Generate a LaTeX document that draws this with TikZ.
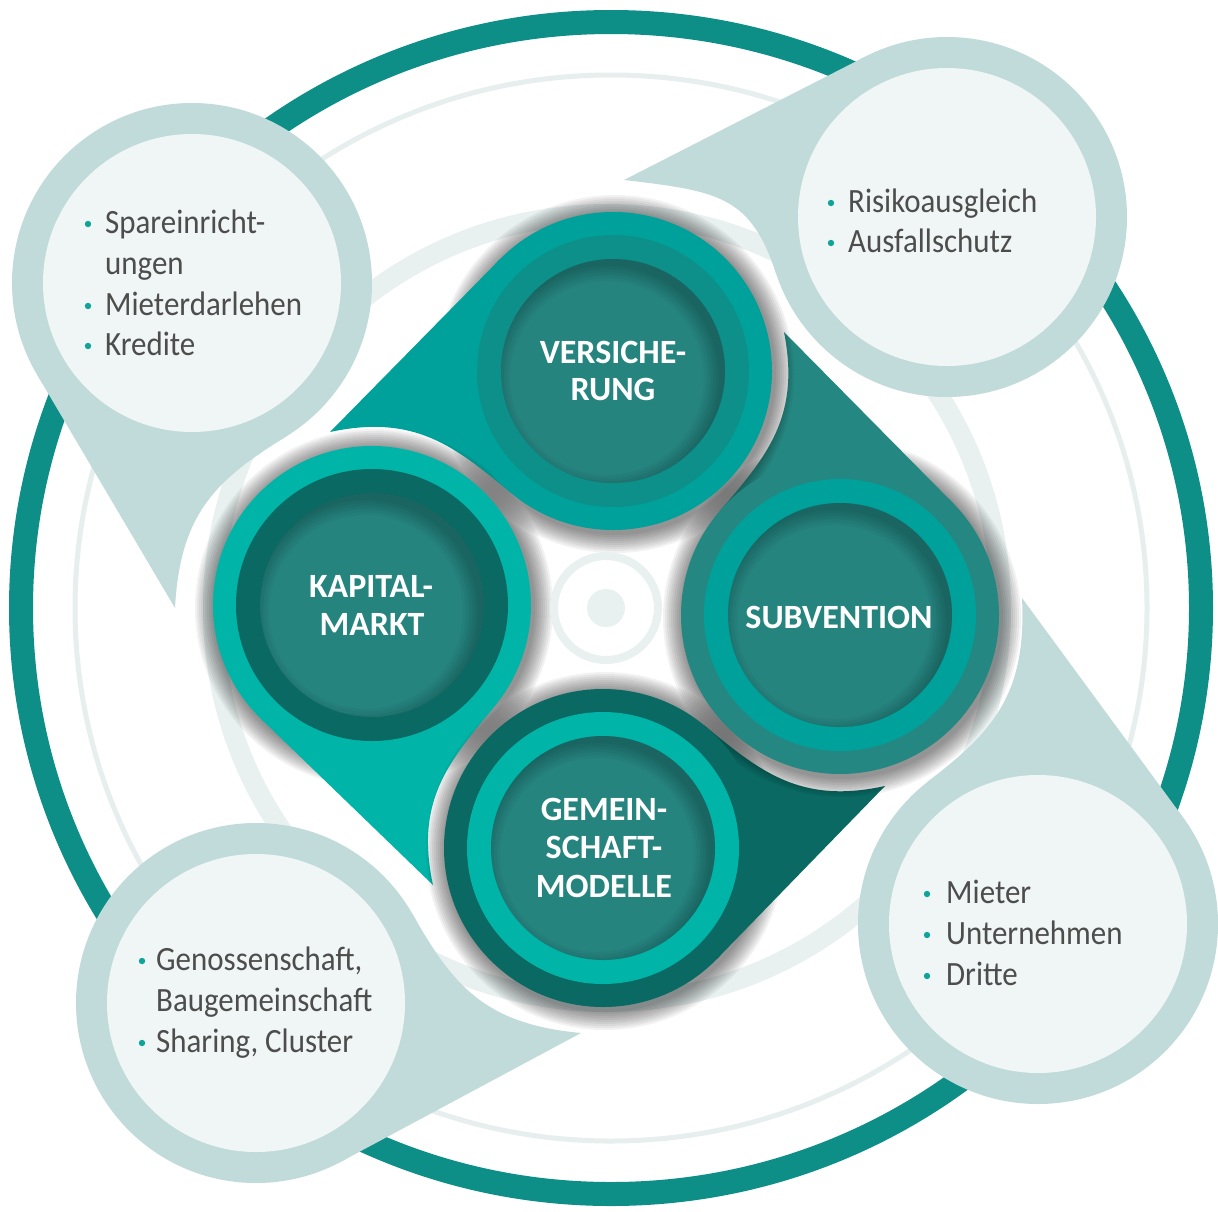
\documentclass[tikz,border=0pt]{standalone}
\usepackage{fontspec}
\setmainfont{Carlito}
\newfontfamily\bubfont[FakeStretch=0.91]{Carlito}
\definecolor{ringdark}{HTML}{0D8F88}
\definecolor{ringlight}{HTML}{E6EFEE}
\definecolor{bandlight}{HTML}{E8F1F0}
\definecolor{bubout}{HTML}{C1DBDA}
\definecolor{bubin}{HTML}{F0F6F5}
\definecolor{tealA}{HTML}{00A19A}
\definecolor{tealB}{HTML}{0D908A}
\definecolor{tealC}{HTML}{258781}
\definecolor{tealD}{HTML}{0A6962}
\definecolor{tealE}{HTML}{00B5A8}
\definecolor{innerc}{HTML}{26847F}
\definecolor{txtgray}{HTML}{4D4D4D}
\definecolor{bulletc}{HTML}{0FA39A}

% pin shape: name, cx, cy, R, tx, ty, concave offset angle
\newcommand\pincompute[7]{%
  \pgfmathsetmacro\pinDX{(#5-#2)/100}%
  \pgfmathsetmacro\pinDY{(#6-#3)/100}%
  \pgfmathsetmacro\pinD{veclen(\pinDX,\pinDY)*100}%
  \pgfmathsetmacro\pinPhi{atan2(\pinDY,\pinDX)}%
  \pgfmathsetmacro\pinAl{acos(#4/\pinD)}%
  \pgfmathsetmacro\pinA{\pinPhi+\pinAl}%
  \pgfmathsetmacro\pinQ{\pinPhi-#7}%
  \pgfmathsetmacro\pinK{0.25*\pinD}%
  \coordinate (#1-C) at (#2,#3);%
  \coordinate (#1-T) at (#5,#6);%
  \coordinate (#1-P) at ({#2+#4*cos(\pinA)},{#3+#4*sin(\pinA)});%
  \coordinate (#1-Q) at ({#2+#4*cos(\pinQ)},{#3+#4*sin(\pinQ)});%
  \coordinate (#1-c2) at ({#2+#4*cos(\pinQ)-\pinK*sin(\pinQ)},{#3+#4*sin(\pinQ)+\pinK*cos(\pinQ)});%
  \coordinate (#1-c1) at ({#5+0.3*(#2-#5)},{#6+0.3*(#3-#6)});%
}
\newcommand\pinpath[1]{(#1-T) -- (#1-P) -- (#1-C) -- (#1-Q) .. controls (#1-c2) and (#1-c1) .. (#1-T) -- cycle}

\newcommand\softshadow[3]{%
  \foreach \sh in {1,...,10}{\fill[black,opacity=0.05] (#1+2,#2+3) circle ({#3+2*\sh});}%
}
\newcommand\innershade[3]{%
  \begin{scope}
    \clip (#1,#2) circle (#3);
    \foreach \sh in {0,...,5}{\fill[black,opacity=0.04,even odd rule] (#1-6,#2+7) circle ({#3+40}) (#1-6,#2+7) circle ({#3-3*\sh});}
  \end{scope}%
}
\newcommand\petalcirc[4]{%
  \fill[#3] (#1,#2) circle (159);
  \fill[#4] (#1,#2) circle (136);
  \fill[innerc] (#1,#2) circle (112);
  \innershade{#1}{#2}{112}%
}

\begin{document}
\begin{tikzpicture}[x=1pt,y=-1pt,
  lab/.style={text=white,font=\fontsize{34}{38}\selectfont\bfseries,inner sep=0pt,anchor=base},
  btxt/.style={text=txtgray,font=\bubfont\fontsize{34}{40}\selectfont,inner sep=0pt,anchor=base west},
  bul/.style={fill=bulletc},
  bubo/.style={fill=bubout},
  bubi/.style={fill=bubin}]
\useasboundingbox (0,0) rectangle (1218,1211);
\fill[white] (0,0) rectangle (1218,1211);

% background rings
\draw[ringdark,line width=24pt] (611,608) ellipse [x radius=590, y radius=586];
\draw[ringlight,line width=5pt] (611,608) ellipse [x radius=536, y radius=533];
\draw[bandlight,line width=20pt] (607,608) circle (394);

% bubbles
\pincompute{TL}{192}{283}{180}{175}{608}{35}
\pincompute{TR}{947}{217}{180}{624}{180}{25}
\pincompute{BR}{1038}{924}{180}{1022}{598}{35}
\pincompute{BL}{256}{1003}{180}{581}{1033}{35}
\foreach \b in {TL,TR,BR,BL}{
  \fill[bubo] \pinpath{\b};
  \fill[bubo] (\b-C) circle (180);
  \fill[bubi] (\b-C) circle (149);
}

% bubble texts
\fill[bul] (88,224) circle (3.2);
\fill[bul] (88,306) circle (3.2);
\fill[bul] (88,346) circle (3.2);
\node[btxt] (tl1) at (105,233) {Spareinricht-};
\node[btxt] (tl2) at (105,274) {ungen};
\node[btxt] (tl3) at (105,315) {Mieterdarlehen};
\node[btxt] (tl4) at (105,355) {Kredite};

\fill[bul] (831,203) circle (3.2);
\fill[bul] (831,243) circle (3.2);
\node[btxt] (tr1) at (848,212) {Risikoausgleich};
\node[btxt] (tr2) at (848,252) {Ausfallschutz};

\fill[bul] (927,894) circle (3.2);
\fill[bul] (927,935) circle (3.2);
\fill[bul] (927,976) circle (3.2);
\node[btxt] (br1) at (946,903) {Mieter};
\node[btxt] (br2) at (946,944) {Unternehmen};
\node[btxt] (br3) at (946,985) {Dritte};

\fill[bul] (142,961) circle (3.2);
\fill[bul] (142,1043) circle (3.2);
\node[btxt] (bl1) at (156,970) {Genossenschaft,};
\node[btxt] (bl2) at (156,1011) {Baugemeinschaft};
\node[btxt] (bl3) at (156,1052) {Sharing, Cluster};

% petal shadows on background
\softshadow{613}{371}{159}
\softshadow{840}{615}{159}
\softshadow{603}{848}{159}
\softshadow{372}{605}{159}

% center target
\draw[bandlight,line width=8pt] (606,608) circle (52);
\fill[bandlight] (606,608) circle (19);

% petal tips
\pincompute{V}{613}{371}{159}{330}{432}{38}
\pincompute{S}{840}{615}{159}{784}{332}{38}
\pincompute{G}{603}{848}{159}{885}{786}{38}
\pincompute{K}{372}{605}{159}{433}{885}{38}
\fill[tealA] \pinpath{V};
\fill[tealC] \pinpath{S};
\fill[tealD] \pinpath{G};
\fill[tealE] \pinpath{K};

% shadows cast on the neighbouring tips
\begin{scope}\clip \pinpath{S}; \softshadow{613}{371}{159}\end{scope}
\begin{scope}\clip \pinpath{G}; \softshadow{840}{615}{159}\end{scope}
\begin{scope}\clip \pinpath{K}; \softshadow{603}{848}{159}\end{scope}
\begin{scope}\clip \pinpath{V}; \softshadow{372}{605}{159}\end{scope}

% petal circles
\petalcirc{613}{371}{tealA}{tealB}
\petalcirc{840}{615}{tealC}{tealA}
\petalcirc{603}{848}{tealD}{tealE}
\petalcirc{372}{605}{tealE}{tealD}

% labels
\node[lab] (v1) at (613,363) {VERSICHE-};
\node[lab] (v2) at (613,400) {RUNG};
\node[lab] (k1) at (371,597) {KAPITAL-};
\node[lab] (k2) at (372,635) {MARKT};
\node[lab] (s1) at (839,628) {SUBVENTION};
\node[lab] (g1) at (604,820) {GEMEIN-};
\node[lab] (g2) at (604,858) {SCHAFT-};
\node[lab] (g3) at (604,897) {MODELLE};
\end{tikzpicture}
\end{document}
